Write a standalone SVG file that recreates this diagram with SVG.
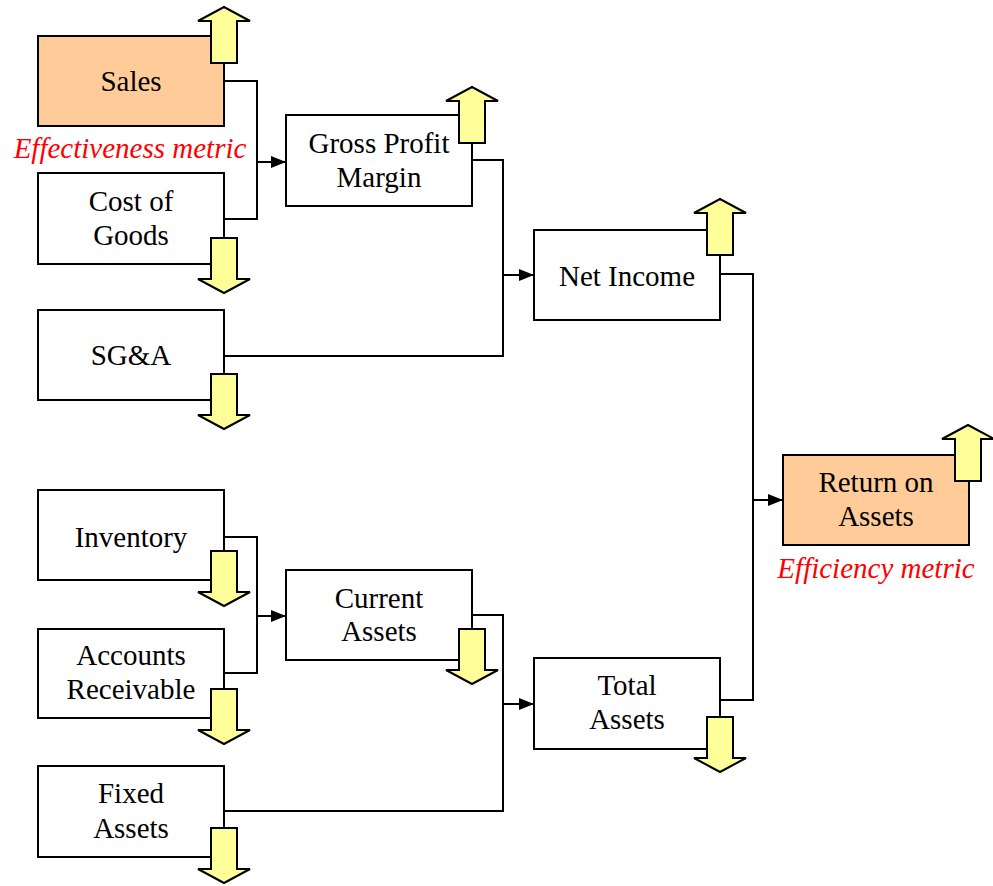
<svg xmlns="http://www.w3.org/2000/svg" width="993" height="886" viewBox="0 0 993 886">
<style>
.box{fill:#fff;stroke:#000;stroke-width:2}
.hl{fill:#FFCC99;stroke:#000;stroke-width:2}
.t{font-family:"Liberation Serif","Times New Roman",serif;font-size:29px;fill:#000;text-anchor:middle}
.m{font-family:"Liberation Serif","Times New Roman",serif;font-size:29px;font-style:italic;fill:#FF0000;text-anchor:middle}
.c{fill:none;stroke:#000;stroke-width:2}
.ar{fill:#FFFF99;stroke:#000;stroke-width:2;stroke-linejoin:miter}
</style>
<defs>
<marker id="ah" markerUnits="userSpaceOnUse" markerWidth="16" markerHeight="12" refX="15" refY="6" orient="auto">
<path d="M0,0 L15,6 L0,12 Z" fill="#000"/>
</marker>
<path id="up" d="M0,0 L26,14 L13,14 L13,56 L-13,56 L-13,14 L-26,14 Z"/>
<path id="down" d="M-13,0 L13,0 L13,41 L26,41 L0,55 L-26,41 L-13,41 Z"/>
</defs>
<g id="connectors">
<path class="c" d="M224,81 H257 V219 H224"/>
<path class="c" d="M257,162 H286" marker-end="url(#ah)"/>
<path class="c" d="M472,160 H503 V356 H224"/>
<path class="c" d="M503,275 H534" marker-end="url(#ah)"/>
<path class="c" d="M720,274 H753 V700 H720"/>
<path class="c" d="M753,500 H783" marker-end="url(#ah)"/>
<path class="c" d="M224,537 H257 V673 H224"/>
<path class="c" d="M257,616 H286" marker-end="url(#ah)"/>
<path class="c" d="M472,615 H503 V811 H224"/>
<path class="c" d="M503,704 H534" marker-end="url(#ah)"/>
</g>
<g id="sales">
<rect class="hl" x="38" y="36" width="186" height="90"/>
<text class="t" x="131" y="91">Sales</text>
<use href="#up" class="ar" x="224" y="7"/>
</g>
<text id="effectiveness" class="m" x="130" y="158">Effectiveness metric</text>
<g id="cost-of-goods">
<rect class="box" x="38" y="173" width="186" height="91"/>
<text class="t" x="131" y="211">Cost of</text>
<text class="t" x="131" y="245">Goods</text>
<use href="#down" class="ar" x="224" y="238"/>
</g>
<g id="sga">
<rect class="box" x="38" y="310" width="186" height="90"/>
<text class="t" x="131" y="365">SG&amp;A</text>
<use href="#down" class="ar" x="224" y="374"/>
</g>
<g id="gross-profit-margin">
<rect class="box" x="286" y="115" width="186" height="91"/>
<text class="t" x="379" y="153">Gross Profit</text>
<text class="t" x="379" y="187">Margin</text>
<use href="#up" class="ar" x="472" y="87"/>
</g>
<g id="net-income">
<rect class="box" x="534" y="230" width="186" height="90"/>
<text class="t" x="627" y="286">Net Income</text>
<use href="#up" class="ar" x="720" y="199"/>
</g>
<g id="return-on-assets">
<rect class="hl" x="783" y="455" width="186" height="90"/>
<text class="t" x="876" y="492">Return on</text>
<text class="t" x="876" y="526">Assets</text>
<use href="#up" class="ar" x="968" y="425"/>
</g>
<text id="efficiency" class="m" x="876" y="578">Efficiency metric</text>
<g id="inventory">
<rect class="box" x="38" y="490" width="186" height="90"/>
<text class="t" x="131" y="547">Inventory</text>
<use href="#down" class="ar" x="224" y="551"/>
</g>
<g id="accounts-receivable">
<rect class="box" x="38" y="629" width="186" height="89"/>
<text class="t" x="131" y="665">Accounts</text>
<text class="t" x="131" y="699">Receivable</text>
<use href="#down" class="ar" x="224" y="689"/>
</g>
<g id="fixed-assets">
<rect class="box" x="38" y="766" width="186" height="91"/>
<text class="t" x="131" y="803">Fixed</text>
<text class="t" x="131" y="838">Assets</text>
<use href="#down" class="ar" x="224" y="828"/>
</g>
<g id="current-assets">
<rect class="box" x="286" y="570" width="186" height="90"/>
<text class="t" x="379" y="608">Current</text>
<text class="t" x="379" y="641">Assets</text>
<use href="#down" class="ar" x="472" y="629"/>
</g>
<g id="total-assets">
<rect class="box" x="534" y="658" width="186" height="91"/>
<text class="t" x="627" y="695">Total</text>
<text class="t" x="627" y="729">Assets</text>
<use href="#down" class="ar" x="720" y="717"/>
</g>
</svg>
